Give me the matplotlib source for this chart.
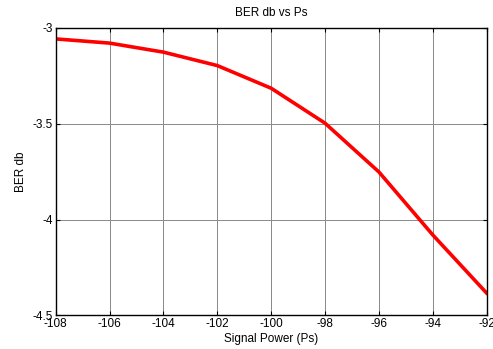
import numpy as np
import matplotlib
matplotlib.use('Agg')
import matplotlib.pyplot as plt

plt.rcParams['font.family'] = ['Liberation Sans', 'DejaVu Sans']
plt.rcParams['axes.unicode_minus'] = False

# signal power (dBm) and BER (db)
ps = [-108, -106, -104, -102, -100, -98, -96, -94, -92]
ber_db = [-3.059, -3.081, -3.128, -3.198, -3.316, -3.498, -3.752, -4.08, -4.383]

fig = plt.figure(figsize=(4.93, 3.49), dpi=100)
ax = fig.add_axes([0.113, 0.096, 0.874, 0.825])

ax.plot(ps, ber_db, color='red', lw=2.6)

ax.set_xlim(-108, -92)
ax.set_ylim(-4.5, -3)
ax.set_xticks(np.arange(-108, -91, 2))
ax.set_yticks([-4.5, -4, -3.5, -3])
ax.set_yticklabels(['-4.5', '-4', '-3.5', '-3'])
ax.grid(True, color='#888888', lw=0.7, ls='-')
ax.tick_params(direction='in', top=True, right=True, labelsize=8.5, length=3, pad=2)
for s in ax.spines.values():
    s.set_linewidth(1.0)

ax.set_xlabel('Signal Power (Ps)', fontsize=8.5, labelpad=2)
ax.set_ylabel('BER db', fontsize=8.5, labelpad=4)
ax.set_title('BER db vs Ps', fontsize=8.5, pad=8)

plt.savefig('out.png', dpi=100)
